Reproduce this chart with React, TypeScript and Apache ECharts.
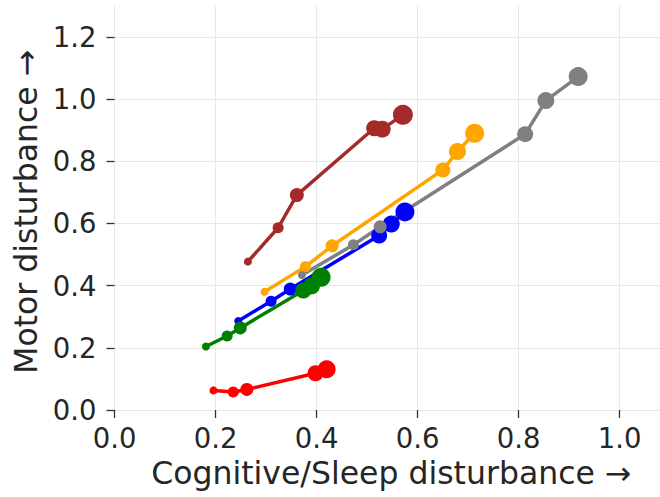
import React, { useEffect, useRef } from "react";
import * as echarts from "echarts";

// Data: [x, y] points, marker sizes per point
const redX = [0.196, 0.235, 0.262, 0.398, 0.42];
const redY = [0.063, 0.058, 0.066, 0.118, 0.131];
const redS = [8, 11, 13, 16, 18];

const blueX = [0.245, 0.31, 0.348, 0.524, 0.548, 0.575];
const blueY = [0.286, 0.35, 0.389, 0.561, 0.598, 0.637];
const blueS = [8, 11, 13, 16, 17, 19];

const greenX = [0.181, 0.223, 0.249, 0.374, 0.39, 0.409];
const greenY = [0.204, 0.238, 0.264, 0.384, 0.399, 0.427];
const greenS = [8, 11, 13, 16, 17, 19];

const orangeX = [0.297, 0.378, 0.431, 0.65, 0.679, 0.713];
const orangeY = [0.38, 0.461, 0.528, 0.772, 0.831, 0.89];
const orangeS = [8, 11, 13, 15, 17, 19];

const grayX = [0.371, 0.473, 0.526, 0.813, 0.854, 0.918];
const grayY = [0.434, 0.531, 0.589, 0.887, 0.995, 1.072];
const grayS = [8, 11, 13, 16, 17, 19];

const brownX = [0.264, 0.324, 0.361, 0.514, 0.53, 0.571];
const brownY = [0.477, 0.586, 0.691, 0.906, 0.903, 0.949];
const brownS = [8, 11, 14, 16, 17, 20];

const xTicks = [0, 0.2, 0.4, 0.6, 0.8, 1.0];
const yTicks = [0, 0.2, 0.4, 0.6, 0.8, 1.0, 1.2];

const xTitle = "Cognitive/Sleep disturbance \u2192";
const yTitle = "Motor disturbance \u2192";

const FONT = "DejaVu Sans";
const TEXT = "#262626";

function makeSeries(name: string, color: string, xs: number[], ys: number[], ss: number[]) {
  return {
    name,
    type: "line",
    data: xs.map((x, i) => [x, ys[i], ss[i]]),
    symbol: "circle",
    symbolSize: (v: number[]) => v[2],
    showAllSymbol: true,
    lineStyle: { color, width: 3.5 },
    itemStyle: { color, borderWidth: 0 },
    encode: { x: 0, y: 1 },
    emphasis: { disabled: true },
  };
}

export default function App() {
  const ref = useRef<HTMLDivElement>(null);
  useEffect(() => {
    if (!ref.current) return;
    const chart = echarts.init(ref.current, null, { renderer: "svg" });
    const axisCommon = {
      type: "value",
      axisLine: { show: false },
      axisTick: { show: true, length: 8, lineStyle: { color: "#333333", width: 1.3 } },
      splitLine: { show: true, lineStyle: { color: "#e8e8e8", width: 1 } },
      nameLocation: "middle",
      nameTextStyle: { fontFamily: FONT, fontSize: 31.5, color: TEXT },
    };
    chart.setOption({
      animation: false,
      backgroundColor: "#ffffff",
      grid: { left: 114.5, right: 0, top: 5.7, bottom: 87, containLabel: false },
      xAxis: {
        ...axisCommon,
        min: 0,
        max: 1.08,
        interval: 0.2,
        name: xTitle,
        nameGap: 47,
        nameTextStyle: { ...axisCommon.nameTextStyle, padding: [0, 0, 0, 8] },
        axisTick: { ...axisCommon.axisTick, customValues: xTicks },
        axisLabel: {
          customValues: xTicks,
          formatter: (v: number) => v.toFixed(1),
          fontFamily: FONT,
          fontSize: 27.5,
          color: TEXT,
          margin: 14,
        },
      },
      yAxis: {
        ...axisCommon,
        min: 0,
        max: 1.3,
        interval: 0.2,
        name: yTitle,
        nameGap: 68,
        nameTextStyle: { ...axisCommon.nameTextStyle, padding: [0, 8, 0, 0] },
        axisTick: { ...axisCommon.axisTick, customValues: yTicks },
        axisLabel: {
          customValues: yTicks,
          formatter: (v: number) => v.toFixed(1),
          fontFamily: FONT,
          fontSize: 27.5,
          color: TEXT,
          margin: 18,
        },
      },
      series: [
        makeSeries("blue", "#0000ff", blueX, blueY, blueS),
        makeSeries("green", "#008000", greenX, greenY, greenS),
        makeSeries("red", "#ff0000", redX, redY, redS),
        makeSeries("orange", "#ffa500", orangeX, orangeY, orangeS),
        makeSeries("gray", "#808080", grayX, grayY, grayS),
        makeSeries("brown", "#a52a2a", brownX, brownY, brownS),
      ],
    });
    return () => chart.dispose();
  }, []);
  return (
    <div
      ref={ref}
      style={{ position: "fixed", left: 0, top: 0, width: 660, height: 497 }}
    />
  );
}
